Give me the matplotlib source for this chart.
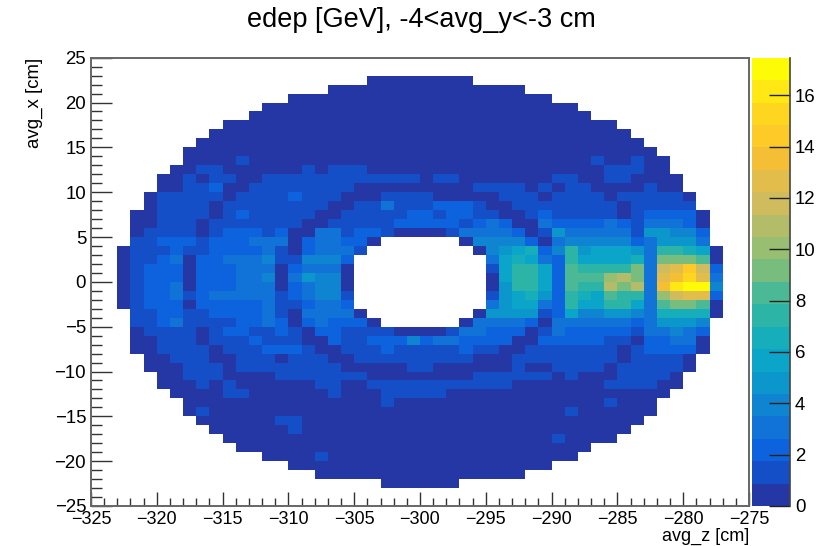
import numpy as np
from matplotlib import pyplot as plt
from matplotlib.colors import BoundaryNorm, ListedColormap
from matplotlib.ticker import MultipleLocator

plt.rcParams["font.family"] = ["Liberation Sans", "DejaVu Sans"]

# Données

TITLE = "edep [GeV], -4<avg_y<-3 cm"
X_LABEL = "avg_z [cm]"
Y_LABEL = "avg_x [cm]"

Z_EDGES = np.arange(-325, -274)
X_EDGES = np.arange(25, -26, -1)
Z_MAX = 17.46
N_LEVELS = 20
Z_TICKS = [0, 2, 4, 6, 8, 10, 12, 14, 16]

# Palier de couleur de chaque bin : 0-9 puis a-j, "." = bin vide
# Une ligne par bin en avg_x, de 25 à -25 cm, groupés par 10 bins en avg_z
LEVEL_ROWS = [
    ".......... .......... .......... .......... ..........",
    ".......... .......... .......... .......... ..........",
    ".......... .......... .00000000. .......... ..........",
    ".......... ........00 0000000000 000....... ..........",
    ".......... .....00000 0000000000 00000..... ..........",
    ".......... ...0000000 0000000000 0000000... ..........",
    ".......... ..00000000 0000000000 00000000.. ..........",
    ".......... 0000000000 0000000000 0000000000 ..........",
    ".........0 0000000000 0000000000 0000000000 0.........",
    "........00 0000000000 0000000000 0000000000 00........",
    ".......000 0000000000 0000000000 0000000000 000.......",
    ".......000 0100000000 0000000000 0000000010 0100......",
    "......0011 0000001011 1000000000 0000000001 1100......",
    ".....00101 1001111111 1111101100 0000011001 10000.....",
    ".....00112 0011111111 0000000001 1110101100 00100.....",
    "....011111 0111121110 0011110000 0111011110 111110....",
    "....011110 1111111100 1131112221 0011111111 011111....",
    "...0011110 1211111001 1111221221 1001211111 0122220...",
    "...0011101 1111110011 1112222212 3200322223 2133320...",
    "...0111101 2221200331 2210000133 3320153333 3155442...",
    "...1122212 2233302332 20......04 4442034444 4235553...",
    "..01112112 2223102333 1........0 4567248566 65388760..",
    "..01123022 3334114442 .......... 3676328666 673aaa90..",
    "..01222022 2333023330 .......... 1688629888 8a3degd2..",
    "..01222022 2334035440 .......... 068862999b ca3efhe3..",
    "..01223022 2333023440 .......... 058862988c ac3fijj4..",
    "..01223123 3333123441 .......... 1567528769 883bdee2..",
    "..01222022 2223112332 .......... 3566328668 8639aa90..",
    "...1122112 2223103333 0........0 5555126445 54377770..",
    "...1123111 1223202322 20......03 3332033333 3235554...",
    "...0111101 2211210221 1110000133 2220132222 2133432...",
    "...0011101 1121110021 1222423322 2200222221 1022330...",
    "...0011110 1112221001 1121111121 1001111111 0122220...",
    "....001110 0111011100 1111111110 0011111111 011110....",
    "....000111 0111111110 0000110000 0010011110 111110....",
    ".....00111 0000111111 1000000001 1111101000 11110.....",
    ".....00010 1000000110 0111111111 1100000001 11100.....",
    "......0000 1100000010 0011111000 0000000000 0000......",
    ".......000 0000000000 0010000000 0000000001 000.......",
    ".......010 0000000000 0000000000 0000001000 000.......",
    "........00 0000110000 0000000000 0000000000 00........",
    ".........0 0000010000 0000000000 0000000000 0.........",
    ".......... 0000000000 0000000000 0000010000 ..........",
    ".......... .000000000 0000000000 00000000.. ..........",
    ".......... ...0000100 0000000000 0000000... ..........",
    ".......... .....00000 0000000000 00000..... ..........",
    ".......... .......000 0000000000 000....... ..........",
    ".......... .......... ..000000.. .......... ..........",
    ".......... .......... .......... .......... ..........",
    ".......... .......... .......... .......... ..........",
]

# Palette type kBird de ROOT, 20 paliers de l'échelle

PALETTE = [
    "#2536a5", "#144fc8", "#0d63dd", "#1173d8", "#0f84d0",
    "#0b96cc", "#0aa5c8", "#17aebb", "#2cb5a7", "#4cb996",
    "#78bd7e", "#98be72", "#b3bc68", "#d0bc5e", "#e3bd4c",
    "#f4be35", "#fdca27", "#ffd61f", "#ffe814", "#fdfb05",
]

LEVEL_CODES = "0123456789abcdefghij"


def rows_to_values(rows):
    step = Z_MAX / N_LEVELS
    values = np.full((50, 50), np.nan)
    for i, row in enumerate(rows):
        for j, code in enumerate(row.replace(" ", "")):
            if code != ".":
                values[i, j] = (LEVEL_CODES.index(code) + 0.5) * step
    return np.ma.masked_invalid(values)


edep = rows_to_values(LEVEL_ROWS)
boundaries = np.linspace(0, Z_MAX, N_LEVELS + 1)
cmap = ListedColormap(PALETTE)
norm = BoundaryNorm(boundaries, cmap.N)

W, H = 823, 546
fig = plt.figure(figsize=(W / 100, H / 100), dpi=100)
ax = fig.add_axes([91 / W, 1 - 506 / H, 658 / W, 448.3 / H])
cax = fig.add_axes([752 / W, 1 - 506 / H, 38 / W, 448.3 / H])

ax.pcolormesh(Z_EDGES, X_EDGES, edep, cmap=cmap, norm=norm, antialiased=False, linewidth=0)

ax.set_xlim(-325, -275)
ax.set_ylim(-25, 25)
ax.xaxis.set_major_locator(MultipleLocator(5))
ax.xaxis.set_minor_locator(MultipleLocator(1))
ax.yaxis.set_major_locator(MultipleLocator(5))
ax.yaxis.set_minor_locator(MultipleLocator(1))
ax.tick_params(axis="x", which="major", direction="in", length=10, width=1, color="#333333", labelsize=13, pad=3.5)
ax.tick_params(axis="x", which="minor", direction="in", length=5.5, width=1, color="#333333")
ax.tick_params(axis="y", which="major", direction="in", length=15, width=1, color="#333333", labelsize=13.4, pad=3.5)
ax.tick_params(axis="y", which="minor", direction="in", length=8, width=1, color="#333333")
for side in ax.spines:
    ax.spines[side].set_color("#666666")
    ax.spines[side].set_linewidth(1.4)

ax.set_xlabel(X_LABEL, loc="right", fontsize=13, labelpad=0)
ax.set_ylabel(Y_LABEL, loc="top", fontsize=13.4, labelpad=8)

# Échelle de couleur : un aplat par palier, graduations à droite vers l'intérieur
cax.pcolormesh([0, 1], boundaries, np.arange(N_LEVELS).reshape(-1, 1) + 0.5,
               cmap=cmap, norm=BoundaryNorm(np.arange(N_LEVELS + 1), cmap.N), antialiased=False, linewidth=0)
cax.set_xlim(0, 1)
cax.set_ylim(0, Z_MAX)
cax.set_xticks([])
cax.yaxis.tick_right()
cax.set_yticks(Z_TICKS)
cax.tick_params(axis="y", direction="in", length=15, width=1, color="#222222", labelsize=13.4, pad=3.5)
for side in ("top", "left", "bottom"):
    cax.spines[side].set_visible(False)
cax.spines["right"].set_color("#444444")
cax.spines["right"].set_linewidth(1.2)

fig.text(421 / W, 1 - 20 / H, TITLE, ha="center", va="center", fontsize=19.5)

fig.savefig("out.png", dpi=100)
